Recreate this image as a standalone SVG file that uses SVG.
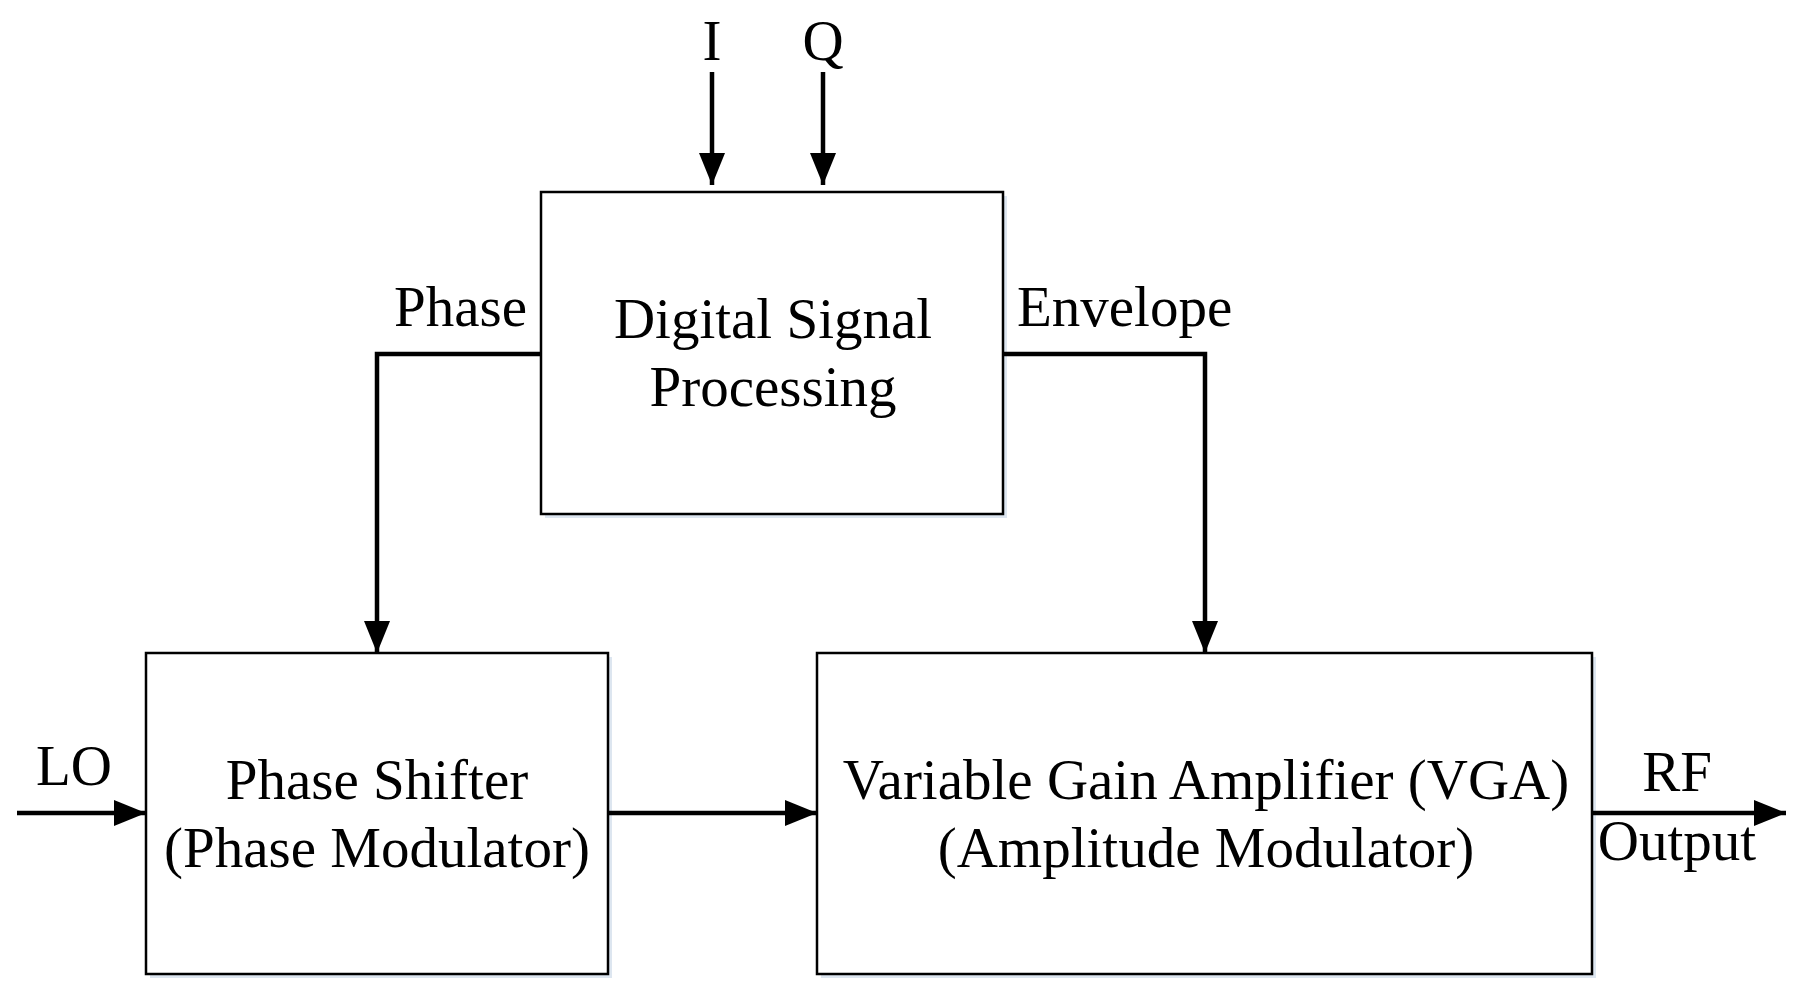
<svg xmlns="http://www.w3.org/2000/svg" width="1802" height="1000" viewBox="0 0 1802 1000">
<style>
.box{fill:#fff;stroke:#000;stroke-width:2.5}
.sh{fill:#dde6f0}
.ln{fill:none;stroke:#000;stroke-width:4.5}
text{font-family:"Liberation Serif","Times New Roman",serif;font-size:57px;fill:#000}
.c{text-anchor:middle}
</style>
<defs>
<marker id="ah" viewBox="0 0 32 26" refX="32" refY="13" markerWidth="32" markerHeight="26" markerUnits="userSpaceOnUse" orient="auto">
<path d="M0,0 L32,13 L0,26 Z" fill="#000"/>
</marker>
</defs>
<rect width="1802" height="1000" fill="#fff"/>
<g id="dsp">
<rect class="sh" x="545" y="196" width="462" height="322"/>
<rect class="box" x="541" y="192" width="462" height="322"/>
<text class="c" x="773" y="338">Digital Signal</text>
<text class="c" x="773" y="406">Processing</text>
</g>
<g id="ps">
<rect class="sh" x="150" y="657" width="462" height="321"/>
<rect class="box" x="146" y="653" width="462" height="321"/>
<text class="c" x="377" y="799">Phase Shifter</text>
<text class="c" x="377" y="867">(Phase Modulator)</text>
</g>
<g id="vga">
<rect class="sh" x="821" y="657" width="775" height="321"/>
<rect class="box" x="817" y="653" width="775" height="321"/>
<text class="c" x="1206" y="799">Variable Gain Amplifier (VGA)</text>
<text class="c" x="1206" y="867">(Amplitude Modulator)</text>
</g>
<g id="connectors">
<path class="ln" d="M712,72 V185" marker-end="url(#ah)"/>
<path class="ln" d="M823,72 V185" marker-end="url(#ah)"/>
<path class="ln" d="M541,354 H377 V653" marker-end="url(#ah)"/>
<path class="ln" d="M1003,354 H1205 V653" marker-end="url(#ah)"/>
<path class="ln" d="M17,813 H146" marker-end="url(#ah)"/>
<path class="ln" d="M608,813 H817" marker-end="url(#ah)"/>
<path class="ln" d="M1592,813 H1786" marker-end="url(#ah)"/>
</g>
<g id="labels">
<text class="c" x="712" y="60">I</text>
<text class="c" x="823" y="60">Q</text>
<text x="527" y="326" text-anchor="end">Phase</text>
<text x="1017" y="326">Envelope</text>
<text class="c" x="74" y="785">LO</text>
<text class="c" x="1677" y="791">RF</text>
<text class="c" x="1677" y="860">Output</text>
</g>
</svg>
